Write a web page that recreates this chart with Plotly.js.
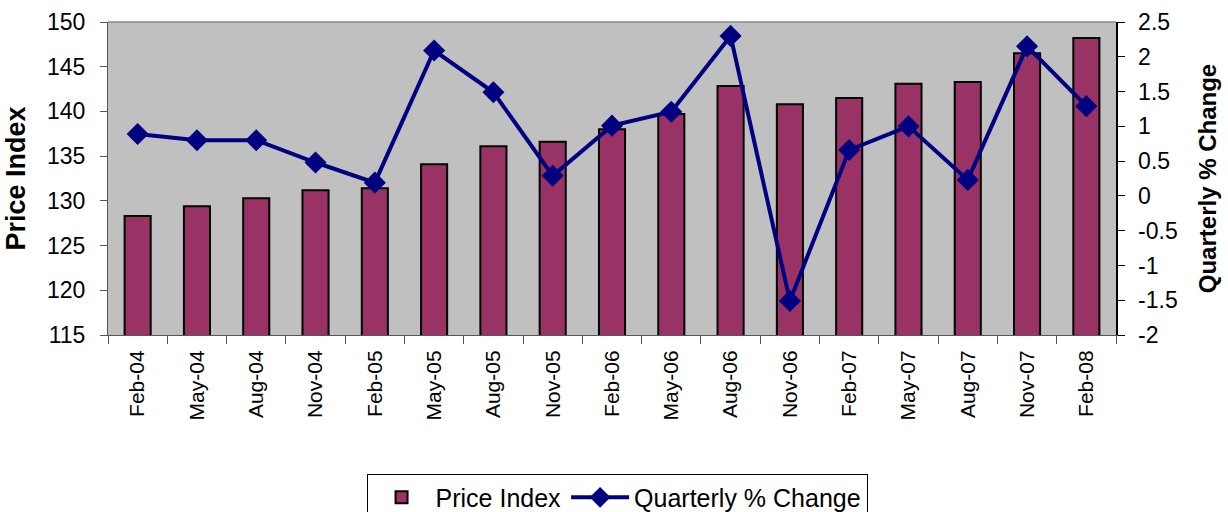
<!DOCTYPE html>
<html>
<head>
<meta charset="utf-8">
<script src="https://cdn.plot.ly/plotly-3.0.1.min.js"></script>
<style>html,body{margin:0;padding:0;background:#fff}#chart{width:1228px;height:512px}</style>
</head>
<body>
<div id="chart"></div>
<script>
const categories = ["Feb-04","May-04","Aug-04","Nov-04","Feb-05","May-05","Aug-05","Nov-05","Feb-06","May-06","Aug-06","Nov-06","Feb-07","May-07","Aug-07","Nov-07","Feb-08"];
const priceIndex = [128.3,129.4,130.3,131.2,131.4,134.1,136.1,136.6,138.0,139.7,142.85,140.8,141.5,143.1,143.3,146.5,148.2];
const quarterlyChange = [0.89,0.80,0.80,0.48,0.19,2.09,1.49,0.29,1.01,1.21,2.30,-1.51,0.66,1.00,0.23,2.15,1.29];
const leftTicks = [115,120,125,130,135,140,145,150];
const rightTicks = [-2,-1.5,-1,-0.5,0,0.5,1,1.5,2,2.5];
const rightTickText = ["-2","-1.5","-1","-0.5","0","0.5","1","1.5","2","2.5"];

const fontFam = 'Arial, "Liberation Sans", sans-serif';
const traces = [
  {type:'bar', name:'Price Index', x:categories, y:priceIndex,
   marker:{color:'#993366', line:{color:'#000000', width:2}}},
  {type:'scatter', mode:'lines+markers', name:'Quarterly % Change', x:categories, y:quarterlyChange, yaxis:'y2',
   line:{color:'#000080', width:4}, marker:{symbol:'diamond', size:17, color:'#000080'}}
];
const layout = {
  width:1228, height:512,
  margin:{l:107.5, r:112.3, t:22, b:177},
  paper_bgcolor:'#ffffff', plot_bgcolor:'#C0C0C0',
  font:{family:fontFam, size:20, color:'#000'},
  bargap:0.56,
  showlegend:true,
  legend:{orientation:'h', xref:'paper', x:0.505, xanchor:'center', yref:'container', y:0.075, yanchor:'top',
          bordercolor:'#000', borderwidth:1, bgcolor:'#fff', font:{size:25, family:fontFam}, traceorder:'normal',
          itemwidth:58},
  xaxis:{type:'category', range:[-0.5,16.5], tickangle:-90, tickson:'boundaries', ticks:'outside', ticklen:8, tickcolor:'#555',
         showline:true, linecolor:'#555', linewidth:1, showgrid:false, tickfont:{size:21}, ticklabelstandoff:6},
  yaxis:{range:[115,150], tickvals:leftTicks, ticks:'outside', ticklen:7, tickcolor:'#555', showline:true, linecolor:'#555',
         showgrid:false, zeroline:false, tickfont:{size:23}, ticklabelstandoff:10,
         title:{text:'<b>Price Index</b>', font:{size:27}, standoff:13}},
  yaxis2:{range:[-2,2.5], overlaying:'y', side:'right', tickvals:rightTicks, ticktext:rightTickText, ticks:'outside', ticklen:7,
          tickcolor:'#000', showline:true, linecolor:'#000', linewidth:1.5, showgrid:false, zeroline:false, tickfont:{size:23},
          ticklabelstandoff:9,
          title:{text:'<b>Quarterly % Change</b>', font:{size:24}, standoff:22}},
  shapes:[{type:'line', xref:'paper', yref:'paper', x0:0, x1:1, y0:1, y1:1, line:{color:'#888', width:1.5}}]
};
Plotly.newPlot('chart', traces, layout, {displayModeBar:false, staticPlot:true});
</script>
</body>
</html>
